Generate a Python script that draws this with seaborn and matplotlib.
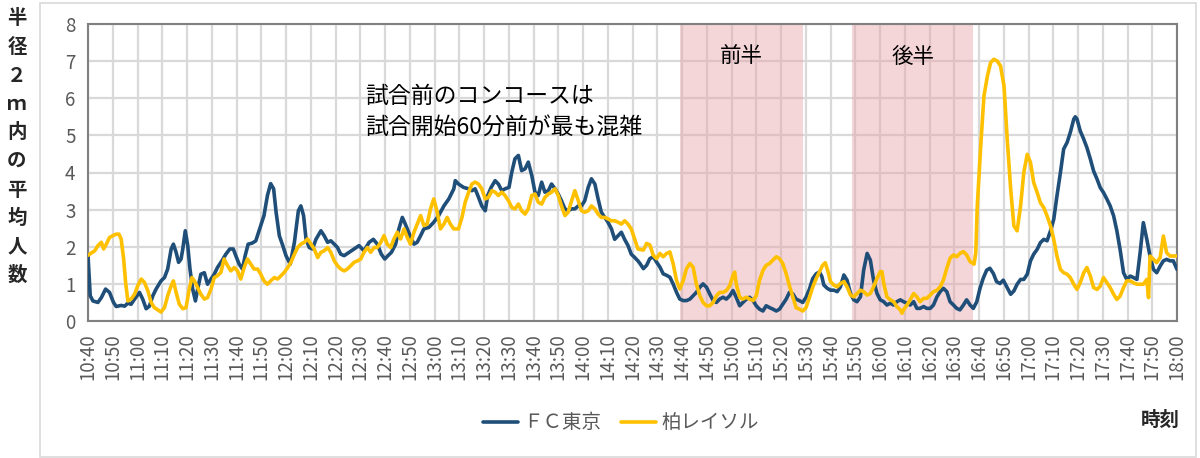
import matplotlib
matplotlib.use("Agg")
import matplotlib.pyplot as plt
from matplotlib.patches import Rectangle
import seaborn as sns
import pandas as pd

# minutes after 10:40
fc_min = [0.0, 0.9, 2.0, 4.0, 5.4, 7.1, 8.7, 10.3, 11.4, 13.4, 14.8, 16.1, 17.4, 18.8, 20.8, 22.1, 23.5, 24.8,
          26.2, 27.5, 29.5, 30.9, 32.2, 33.6, 34.5, 35.6, 36.6, 37.6, 38.3, 39.3, 40.3, 41.2, 42.3, 43.4, 44.3,
          45.6, 47.0, 48.3, 49.7, 51.0, 52.3, 54.1, 55.7, 57.3, 58.7, 60.0, 61.1, 62.4, 63.5, 64.7, 66.4, 67.8,
          69.1, 71.1, 72.5, 73.8, 75.0, 76.0, 77.3, 78.7, 80.0, 81.7, 83.4, 85.0, 86.0, 87.1, 88.1, 89.4, 90.7,
          92.1, 94.1, 95.4, 96.8, 98.1, 99.5, 100.8, 102.1, 103.5, 105.5, 107.5, 109.5, 111.5, 113.6, 115.3,
          116.9, 118.5, 119.9, 121.2, 122.6, 124.3, 125.6, 127.0, 127.9, 129.0, 130.1, 131.7, 133.0, 134.4,
          135.7, 137.7, 139.7, 141.7, 143.8, 145.8, 147.8, 148.4, 149.7, 151.7, 153.8, 155.1, 156.4, 157.8,
          159.1, 160.5, 161.5, 162.9, 164.5, 165.8, 167.2, 168.5, 170.1, 171.2, 172.5, 173.9, 175.2, 176.6,
          177.9, 179.3, 180.6, 181.9, 183.3, 184.6, 186.0, 187.3, 188.7, 190.0, 191.3, 192.7, 194.0, 195.4,
          196.7, 198.1, 199.4, 200.7, 202.1, 203.4, 204.8, 206.1, 207.4, 208.8, 210.1, 211.5, 212.8, 214.2,
          215.5, 216.8, 218.2, 219.5, 220.9, 222.2, 223.0, 224.4, 225.7, 227.0, 228.4, 229.7, 231.1, 232.4,
          233.8, 235.1, 236.4, 237.8, 239.1, 240.5, 241.8, 243.2, 244.5, 245.8, 247.2, 248.5, 249.9, 251.2,
          252.6, 253.9, 255.2, 256.6, 257.9, 259.3, 260.6, 261.9, 263.3, 264.6, 266.0, 267.3, 268.7, 270.0,
          271.3, 272.7, 274.0, 275.4, 276.7, 278.1, 279.4, 280.7, 282.1, 283.4, 284.8, 286.1, 287.4, 288.8,
          290.1, 291.5, 292.8, 294.2, 295.5, 296.5, 297.3, 298.7, 300.0, 301.3, 302.7, 304.0, 305.4, 306.7,
          308.1, 309.4, 310.7, 312.1, 313.4, 314.8, 316.1, 317.4, 318.8, 320.1, 321.5, 322.8, 324.2, 325.5,
          326.8, 328.2, 329.5, 330.9, 332.2, 333.6, 334.9, 336.2, 337.6, 338.9, 340.3, 341.6, 343.0, 344.3,
          345.6, 347.0, 348.3, 349.7, 351.0, 352.3, 353.7, 355.0, 356.4, 357.7, 359.1, 360.4, 361.7, 363.1,
          364.4, 365.8, 367.1, 368.5, 369.8, 371.4, 372.8, 374.1, 375.4, 376.8, 378.1, 379.5, 380.8, 382.1,
          383.5, 384.8, 386.2, 387.5, 388.9, 390.2, 391.5, 392.9, 394.2, 395.6, 396.9, 398.3, 398.9, 399.6,
          400.9, 402.3, 403.6, 405.0, 406.3, 407.7, 409.0, 410.3, 411.7, 413.0, 414.4, 415.7, 417.0, 418.4,
          419.7, 421.1, 422.4, 423.8, 425.1, 426.4, 427.8, 429.1, 430.5, 431.8, 433.2, 434.5, 435.8, 437.2,
          438.5, 440.0]
fc_val = [1.76, 0.68, 0.54, 0.50, 0.63, 0.86, 0.77, 0.50, 0.39, 0.42, 0.40, 0.48, 0.45, 0.59, 0.77, 0.59, 0.33, 0.40,
          0.68, 0.86, 1.08, 1.17, 1.40, 1.94, 2.07, 1.85, 1.58, 1.67, 1.94, 2.43, 2.03, 1.40, 0.86, 0.54, 0.86,
          1.26, 1.30, 0.99, 1.13, 1.26, 1.44, 1.62, 1.80, 1.94, 1.94, 1.71, 1.53, 1.40, 1.76, 2.07, 2.10, 2.16,
          2.43, 2.84, 3.38, 3.70, 3.56, 2.93, 2.30, 2.03, 1.76, 1.53, 2.12, 2.97, 3.10, 2.84, 2.20, 1.98, 1.94,
          2.20, 2.43, 2.30, 2.12, 2.16, 2.07, 1.98, 1.80, 1.76, 1.85, 1.94, 2.03, 1.89, 2.12, 2.20,
          2.07, 1.80, 1.67, 1.76, 1.85, 2.07, 2.48, 2.79, 2.66, 2.48, 2.30, 2.07, 2.12, 2.30,
          2.48, 2.52, 2.66, 2.84, 3.10, 3.29, 3.56, 3.78, 3.69, 3.60, 3.56, 3.51, 3.56, 3.33,
          3.10, 2.97, 3.38, 3.60, 3.78, 3.69, 3.51, 3.56, 3.60, 4.00, 4.37, 4.46, 4.05, 4.10,
          4.28, 3.92, 3.47, 3.38, 3.74, 3.47, 3.51, 3.69, 3.56, 3.42, 3.24, 3.02, 2.97, 3.02,
          3.02, 3.10, 3.10, 3.24, 3.60, 3.83, 3.69, 3.29, 2.93, 2.79, 2.66, 2.48, 2.20, 2.30,
          2.39, 2.20, 2.03, 1.80, 1.71, 1.62, 1.55, 1.41, 1.50, 1.68, 1.73, 1.59, 1.45, 1.27,
          1.23, 1.18, 1.00, 0.77, 0.59, 0.55, 0.55, 0.59, 0.68, 0.77, 0.91, 1.00, 0.91, 0.73,
          0.55, 0.50, 0.59, 0.64, 0.59, 0.68, 0.82, 0.64, 0.41, 0.50, 0.59, 0.64, 0.55, 0.41,
          0.32, 0.27, 0.41, 0.36, 0.32, 0.27, 0.32, 0.45, 0.59, 0.77, 0.73, 0.59, 0.55, 0.50,
          0.64, 0.86, 1.14, 1.27, 1.32, 1.20, 0.97, 0.88, 0.83, 0.83, 0.79, 0.92, 1.24, 1.10,
          0.74, 0.57, 0.52, 0.65, 1.37, 1.82, 1.64, 1.10, 0.74, 0.57, 0.52, 0.43, 0.48, 0.43,
          0.52, 0.57, 0.52, 0.48, 0.43, 0.52, 0.34, 0.34, 0.39, 0.34, 0.34, 0.43, 0.65, 0.79,
          0.88, 0.79, 0.52, 0.43, 0.34, 0.30, 0.43, 0.57, 0.43, 0.34, 0.52, 0.88, 1.15, 1.37,
          1.42, 1.28, 1.06, 1.01, 1.10, 0.90, 0.72, 0.81, 0.99, 1.12, 1.12, 1.26, 1.62, 1.80,
          1.93, 2.11, 2.20, 2.16, 2.43, 2.74, 3.37, 4.00, 4.63, 4.81, 5.08, 5.44, 5.50, 5.44,
          5.12, 4.90, 4.67, 4.36, 4.04, 3.82, 3.59, 3.46, 3.28, 3.10, 2.83, 2.43, 1.93, 1.30,
          1.12, 1.21, 1.17, 1.12, 1.84, 2.65, 2.20, 1.75, 1.39, 1.30, 1.48, 1.62, 1.66, 1.62,
          1.62, 1.39]

kr_min = [0.0, 1.3, 2.7, 4.0, 5.4, 6.3, 7.4, 8.7, 10.1, 11.4, 12.5, 13.4, 14.4, 15.2, 16.1, 17.4, 18.8, 20.1,
          21.5, 22.8, 24.2, 25.5, 26.8, 28.2, 29.5, 30.9, 32.2, 33.6, 34.5, 35.6, 36.9, 38.3, 39.6, 40.9, 42.0,
          43.0, 44.3, 45.6, 47.0, 48.3, 49.7, 51.0, 52.3, 53.7, 55.0, 56.4, 57.7, 59.1, 60.4, 61.7, 63.1, 64.4,
          65.8, 67.1, 68.5, 69.8, 71.1, 72.5, 73.8, 75.3, 76.6, 78.0, 79.3, 80.7, 82.0, 83.4, 84.7, 86.0, 87.4,
          88.7, 90.1, 91.4, 92.8, 94.1, 95.4, 96.8, 98.1, 99.5, 100.8, 102.1, 103.5, 104.8, 106.2, 107.5, 108.9,
          110.2, 111.5, 112.9, 114.2, 115.6, 116.9, 118.3, 119.6, 120.9, 122.3, 123.6, 125.0, 126.3, 127.7,
          129.0, 130.3, 131.7, 133.0, 134.4, 135.7, 137.0, 138.4, 139.7, 141.1, 142.4, 143.8, 145.1, 146.4,
          147.8, 149.7, 151.1, 152.4, 153.8, 155.1, 156.4, 157.8, 159.1, 160.5, 161.8, 163.2, 164.5, 165.8,
          167.2, 168.5, 169.9, 171.2, 172.5, 173.9, 175.2, 176.6, 177.9, 179.3, 180.6, 181.9, 183.3, 184.6,
          186.0, 187.3, 188.7, 190.0, 191.3, 192.7, 194.0, 195.4, 196.7, 198.1, 199.4, 200.7, 202.1, 203.4,
          204.8, 206.1, 207.4, 208.8, 210.1, 211.5, 212.8, 214.2, 215.5, 216.8, 218.2, 219.5, 220.9, 222.2,
          224.4, 225.7, 227.0, 228.4, 229.7, 231.1, 232.4, 233.8, 235.1, 236.4, 237.8, 239.1, 240.5, 241.8,
          243.2, 244.5, 245.8, 247.2, 248.5, 249.9, 251.2, 252.6, 253.9, 255.2, 256.6, 257.9, 259.3, 260.6,
          261.3, 261.9, 263.3, 264.6, 266.0, 267.3, 268.7, 270.0, 271.3, 272.7, 274.0, 275.4, 276.7, 278.1,
          279.4, 280.7, 282.1, 283.4, 284.8, 286.1, 287.4, 288.8, 290.1, 291.5, 292.8, 294.2, 295.5, 296.8,
          297.9, 298.9, 300.0, 301.3, 302.7, 304.0, 305.4, 306.7, 308.1, 309.4, 310.7, 312.1, 313.4, 314.8,
          316.1, 317.4, 318.8, 320.1, 320.8, 321.5, 322.8, 324.2, 325.5, 326.8, 328.2, 328.9, 329.5, 330.9,
          332.2, 333.6, 334.9, 336.2, 337.6, 338.9, 340.3, 341.6, 343.0, 344.3, 345.6, 347.0, 348.3, 349.7,
          351.0, 352.3, 353.7, 355.0, 356.4, 358.0, 358.7, 359.3, 360.7, 362.0, 363.4, 364.7, 366.0, 367.4,
          368.7, 370.1, 371.4, 372.8, 374.1, 375.4, 376.8, 378.1, 379.5, 380.8, 382.1, 383.5, 384.8, 386.2,
          387.5, 388.9, 390.2, 391.5, 392.9, 394.2, 395.6, 396.9, 398.3, 399.6, 400.9, 402.3, 403.6, 405.0,
          406.3, 407.7, 409.0, 410.3, 411.7, 413.0, 414.4, 415.7, 417.0, 418.4, 419.7, 421.1, 422.4, 423.8,
          425.1, 426.4, 427.8, 428.5, 429.1, 430.5, 431.8, 433.2, 434.5, 435.8, 437.2, 438.5, 440.0]
kr_val = [1.77, 1.83, 1.89, 2.03, 2.12, 1.94, 2.07, 2.25, 2.30, 2.34, 2.34, 2.21, 1.67, 1.04, 0.54, 0.59, 0.72, 0.95,
          1.13, 1.04, 0.81, 0.50, 0.36, 0.30, 0.24, 0.36, 0.68, 0.95, 1.08, 0.77, 0.45, 0.33, 0.36, 0.86, 1.17,
          1.08, 0.90, 0.72, 0.59, 0.63, 0.86, 1.17, 1.22, 1.31, 1.67, 1.49, 1.35, 1.44, 1.35, 1.13, 1.44, 1.67,
          1.53, 1.40, 1.40, 1.26, 1.08, 0.99, 1.08, 1.17, 1.13, 1.22, 1.31, 1.44, 1.58, 1.80, 1.98, 2.07, 2.12,
          2.21, 2.07, 1.94, 1.71, 1.85, 1.89, 1.98, 1.85, 1.62, 1.49, 1.40, 1.35, 1.40, 1.49, 1.58, 1.62,
          1.67, 1.85, 1.98, 1.85, 1.98, 1.98, 2.12, 2.30, 2.07, 1.98, 2.21, 2.39, 2.21, 2.48,
          2.25, 2.07, 2.39, 2.61, 2.84, 2.57, 2.61, 3.02, 3.29, 2.93, 2.48, 2.61, 2.79, 2.61,
          2.48, 2.48, 2.79, 3.20, 3.47, 3.69, 3.74, 3.69, 3.56, 3.29, 3.33, 3.51, 3.47, 3.38,
          3.47, 3.38, 3.24, 3.06, 3.02, 3.15, 2.97, 2.88, 3.02, 3.38, 3.42, 3.20, 3.15, 3.33,
          3.42, 3.47, 3.56, 3.38, 3.10, 2.84, 2.93, 3.24, 3.51, 3.24, 2.97, 2.93, 2.97, 3.10,
          3.02, 2.88, 2.79, 2.79, 2.75, 2.70, 2.70, 2.66, 2.61, 2.70, 2.61, 2.48, 2.20, 1.94,
          1.91, 2.09, 2.05, 1.77, 1.68, 1.82, 1.73, 1.82, 1.86, 1.55, 1.09, 0.86, 1.09, 1.41,
          1.55, 1.45, 1.00, 0.68, 0.50, 0.41, 0.41, 0.50, 0.68, 0.77, 0.77, 0.82, 0.95, 1.23,
          1.32, 1.00, 0.64, 0.59, 0.64, 0.59, 0.55, 0.68, 1.09, 1.36, 1.50, 1.55, 1.64, 1.73,
          1.68, 1.55, 1.27, 0.95, 0.64, 0.36, 0.32, 0.27, 0.36, 0.64, 0.91, 1.14, 1.32, 1.50,
          1.57, 1.35, 1.06, 0.97, 0.92, 1.01, 1.06, 0.92, 0.70, 0.65, 0.74, 0.83, 0.79, 0.70,
          0.74, 0.92, 1.15, 1.33, 1.33, 1.01, 0.65, 0.57, 0.52, 0.39, 0.30, 0.21, 0.30, 0.43,
          0.57, 0.74, 0.65, 0.52, 0.61, 0.61, 0.70, 0.79, 0.83, 0.92, 1.10, 1.42, 1.69, 1.78,
          1.73, 1.82, 1.87, 1.78, 1.60, 1.53, 1.84, 3.10, 4.72, 6.06, 6.60, 6.96, 7.05, 7.00,
          6.87, 6.33, 4.90, 3.55, 2.56, 2.43, 3.10, 4.00, 4.49, 4.27, 3.73, 3.46, 3.19, 3.05,
          2.83, 2.56, 2.20, 1.75, 1.39, 1.30, 1.26, 1.17, 0.99, 0.85, 1.03, 1.30, 1.44, 1.21,
          0.90, 0.85, 0.94, 1.17, 1.03, 0.90, 0.72, 0.58, 0.67, 0.90, 1.08, 1.08, 1.03, 0.99,
          0.99, 0.99, 1.12, 0.63, 1.75, 1.66, 1.57, 1.71, 2.29, 1.84, 1.75, 1.75, 1.75]

tick_labels = ["10:40", "10:50",
               "11:00", "11:10", "11:20", "11:30", "11:40", "11:50",
               "12:00", "12:10", "12:20", "12:30", "12:40", "12:50",
               "13:00", "13:10", "13:20", "13:30", "13:40", "13:50",
               "14:00", "14:10", "14:20", "14:30", "14:40", "14:50",
               "15:00", "15:10", "15:20", "15:30", "15:40", "15:50",
               "16:00", "16:10", "16:20", "16:30", "16:40", "16:50",
               "17:00", "17:10", "17:20", "17:30", "17:40", "17:50",
               "18:00"]
half_spans = [(239.2, 288.7), (308.7, 357.6)]
half_names = ["前半", "後半"]
series_names = ["ＦＣ東京", "柏レイソル"]
note_lines = ["試合前のコンコースは", "試合開始60分前が最も混雑"]
ylabel_chars = list("半径２ｍ内の平均人数")

sns.set_style("white")
plt.rcParams['font.family'] = ['Noto Sans CJK JP', 'DejaVu Sans']

fig = plt.figure(figsize=(12, 4.58), dpi=100)
ax = fig.add_axes([88 / 1200, 1 - 321 / 458, (1177 - 88) / 1200, (321 - 24) / 458])

df = pd.concat([
    pd.DataFrame({"min": fc_min, "val": fc_val, "team": series_names[0]}),
    pd.DataFrame({"min": kr_min, "val": kr_val, "team": series_names[1]}),
])
sns.lineplot(data=df, x="min", y="val", hue="team", palette=["#1F4E79", "#FFC000"],
             estimator=None, legend=False, lw=2.6, zorder=3, ax=ax)

for (a, b), name in zip(half_spans, half_names):
    ax.axvspan(a, b, color="#E8A3AA", alpha=0.45, lw=0, zorder=1)
    ax.text((a + b) / 2, 7.12, name, ha="center", va="center", fontsize=15.5, color="black")

ax.text(112, 6.04, note_lines[0], ha="left", va="center", fontsize=16.5, color="black")
ax.text(112, 5.23, note_lines[1], ha="left", va="center", fontsize=16.5, color="black")

ax.set_xlim(0, 440)
ax.set_ylim(0, 8)
ax.set_xticks(range(0, 441, 10))
ax.set_xticklabels(tick_labels, rotation=90)
ax.set_yticks(range(0, 9))
ax.set_xlabel("")
ax.set_ylabel("")
ax.grid(True, color="#D9D9D9", lw=1.6)
ax.set_axisbelow(True)
ax.tick_params(length=0, labelsize=13.5, labelcolor="#595959", pad=9)
for s in ax.spines.values():
    s.set_visible(True)
    s.set_color("#808080")
    s.set_linewidth(1.5)

for i, ch in enumerate(ylabel_chars):
    fig.text(17 / 1200, 1 - (19 + i * 28.5) / 458, ch, ha="center", va="center",
             fontsize=14, fontweight="bold")

fig.text(1160 / 1200, 1 - 420 / 458, "時刻", ha="center", va="center", fontsize=14, fontweight="bold")

leg = fig.legend(ax.lines[:2], series_names, loc="center", bbox_to_anchor=(621 / 1200, 1 - 423 / 458),
                 ncol=2, frameon=False, fontsize=14, handlelength=1.8, handletextpad=0.3, columnspacing=1.0)
for t in leg.get_texts():
    t.set_color("#595959")

fig.patches.append(Rectangle((40 / 1200, 1 / 458), 1156 / 1200, 454 / 458, transform=fig.transFigure,
                             fill=False, ec="#D9D9D9", lw=1.2))

fig.savefig("out.png", dpi=100)
